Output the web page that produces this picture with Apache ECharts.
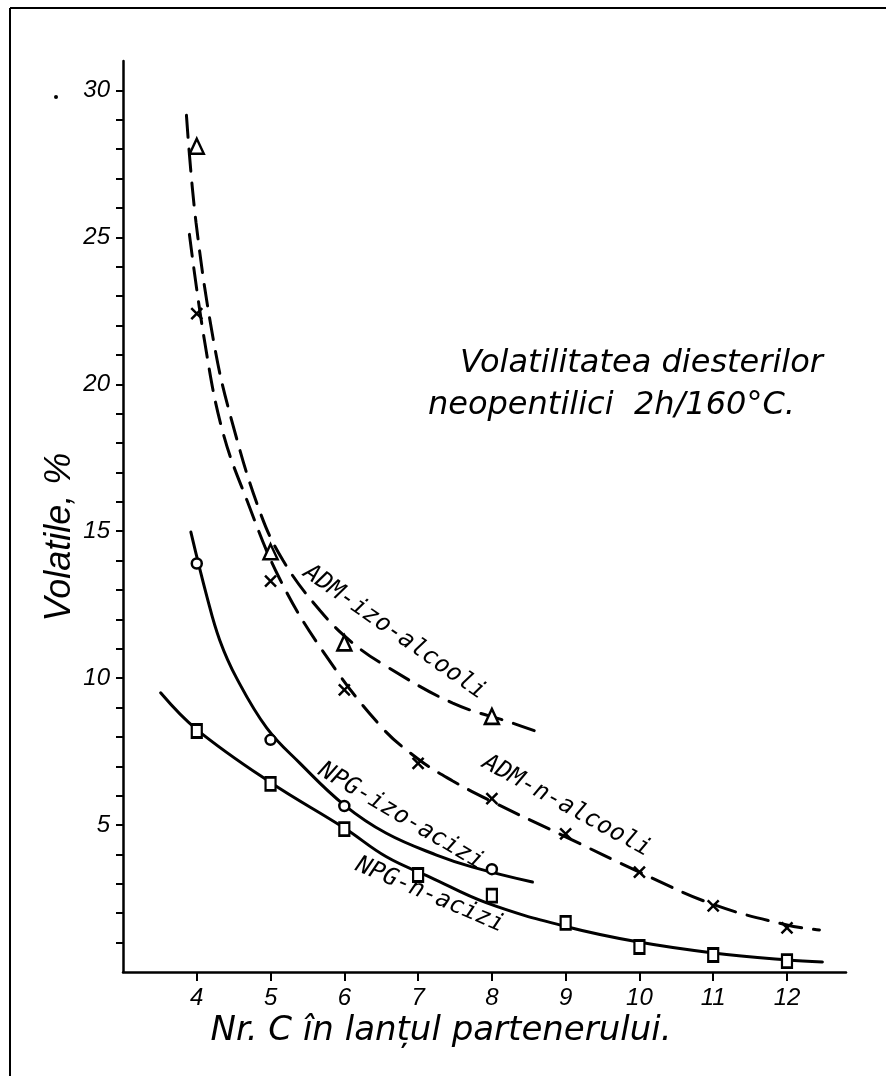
<!DOCTYPE html>
<html>
<head>
<meta charset="utf-8">
<script src="https://cdn.jsdelivr.net/npm/echarts@6/dist/echarts.min.js"></script>
<style>
html, body { margin: 0; padding: 0; background: #fff; }
#chart { width: 886px; height: 1076px; }
</style>
</head>
<body>
<div id="chart"></div>
<script>
// tick values
var xTicks = [4, 5, 6, 7, 8, 9, 10, 11, 12];
var yTicks = [1, 2, 3, 4, 5, 6, 7, 8, 9, 10, 11, 12, 13, 14, 15, 16, 17, 18, 19, 20, 21, 22, 23, 24, 25, 26, 27, 28, 29, 30];
var yLabels = [5, 10, 15, 20, 25, 30];

// measured points (Nr. C, volatile %)
var admIzoPts = [[4, 28.1], [5, 14.3], [6, 11.2], [8, 8.7]];
var admNPts = [[4, 22.4], [5, 13.3], [6, 9.6], [7, 7.1], [8, 5.9], [9, 4.7], [10, 3.4], [11, 2.25], [12, 1.5]];
var npgIzoPts = [[4, 13.9], [5, 7.9], [6, 5.65], [8, 3.5]];
var npgNPts = [[4, 8.2], [5, 6.4], [6, 4.86], [7, 3.3], [8, 2.6], [9, 1.67], [10, 0.85], [11, 0.58], [12, 0.37]];

// hand drawn curves
var admIzoCurve = [[3.86, 29.15], [3.99, 25.5], [4.24, 21.3], [4.47, 18.8], [4.85, 15.7], [5.17, 14.0], [5.67, 12.3], [6.11, 11.2], [6.57, 10.4], [7.47, 9.15], [8.28, 8.47], [8.67, 8.13]];
var admNCurve = [[3.9, 25.1], [4.11, 21.4], [4.35, 18.4], [4.68, 16.05], [5.12, 13.4], [5.7, 10.95], [6.48, 8.4], [7.0, 7.25], [7.47, 6.5], [8.0, 5.8], [9.0, 4.6], [10.0, 3.4], [11.0, 2.3], [12.0, 1.6], [12.44, 1.43]];
var npgIzoCurve = [[3.92, 14.97], [4.14, 12.75], [4.31, 11.3], [4.54, 10.0], [4.95, 8.3], [5.4, 7.1], [6.0, 5.68], [6.57, 4.72], [7.25, 3.98], [7.74, 3.57], [8.55, 3.06]];
var npgNCurve = [[3.51, 9.5], [4.0, 8.25], [5.0, 6.45], [6.0, 4.9], [6.57, 3.92], [7.16, 3.23], [7.93, 2.35], [9.0, 1.55], [9.99, 1.02], [11.0, 0.65], [12.0, 0.41], [12.48, 0.34]];

// curve labels: text, anchor [x, y], angle in degrees
var curveLabels = [
    ['ADM-izo-alcooli', [6.68, 11.56], 35],
    ['ADM-n-alcooli', [9.01, 5.65], 28.6],
    ['NPG-izo-acizi', [6.77, 5.3], 30.6],
    ['NPG-n-acizi', [7.16, 2.62], 23]
];

var font = 'Liberation Sans';
var ink = '#000';

var chart = echarts.init(document.getElementById('chart'));

function curve(name, data, dashed) {
    return {
        name: name,
        type: 'line',
        data: data,
        smooth: 0.4,
        showSymbol: false,
        silent: true,
        z: 2,
        lineStyle: { color: ink, width: 3, type: dashed ? [22, 12] : 'solid', cap: 'round' }
    };
}

function marks(name, data, symbol, size) {
    return {
        name: name,
        type: 'scatter',
        data: data,
        symbol: symbol,
        symbolSize: size,
        z: 5,
        itemStyle: { color: '#fff', borderColor: ink, borderWidth: 2.5, opacity: 1 }
    };
}

var option = {
    backgroundColor: '#fff',
    animation: false,
    grid: { left: 123, right: 40, top: 61, bottom: 104 },
    xAxis: {
        type: 'value',
        min: 3,
        max: 12.8,
        axisLine: { lineStyle: { color: ink, width: 2.5 } },
        axisTick: { customValues: xTicks, length: 9, lineStyle: { color: ink, width: 2 } },
        axisLabel: { customValues: xTicks, color: ink, fontSize: 24, fontStyle: 'italic', fontFamily: font, margin: 14 },
        splitLine: { show: false }
    },
    yAxis: {
        type: 'value',
        min: 0,
        max: 31,
        axisLine: { show: true, lineStyle: { color: ink, width: 2.5 } },
        axisTick: { show: true, customValues: yTicks, length: 7, lineStyle: { color: ink, width: 2 } },
        axisLabel: { customValues: yLabels, color: ink, fontSize: 24, fontStyle: 'italic', fontFamily: font, margin: 13 },
        splitLine: { show: false }
    },
    series: [
        curve('ADM-izo-alcooli', admIzoCurve, true),
        curve('ADM-n-alcooli', admNCurve, true),
        curve('NPG-izo-acizi', npgIzoCurve, false),
        curve('NPG-n-acizi', npgNCurve, false),
        marks('ADM-izo-alcooli', admIzoPts, 'triangle', [14, 15]),
        marks('ADM-n-alcooli', admNPts, 'path://M0,0L10,10M10,0L0,10', 11),
        marks('NPG-izo-acizi', npgIzoPts, 'circle', 10),
        marks('NPG-n-acizi', npgNPts, 'rect', [10, 13])
    ]
};
chart.setOption(option);

// frame, titles and labels placed on top
var graphics = [
    { type: 'line', shape: { x1: 10, y1: 8, x2: 10, y2: 1076 }, style: { stroke: ink, lineWidth: 2 } },
    { type: 'line', shape: { x1: 10, y1: 8, x2: 886, y2: 8 }, style: { stroke: ink, lineWidth: 2 } },
    { type: 'circle', shape: { cx: 56, cy: 97, r: 2 }, style: { fill: ink } },
    { type: 'text', x: 60, y: 537, rotation: Math.PI / 2,
      style: { text: 'Volatile, %', font: 'italic 36px ' + font, fill: ink, align: 'center', verticalAlign: 'middle' } },
    { type: 'text', x: 441, y: 1031,
      style: { text: 'Nr. C în lanțul partenerului.', font: 'italic 34px DejaVu Sans', fill: ink, align: 'center', verticalAlign: 'middle' } },
    { type: 'text', x: 460, y: 364,
      style: { text: 'Volatilitatea diesterilor', font: 'italic 32px DejaVu Sans', fill: ink, align: 'left', verticalAlign: 'middle' } },
    { type: 'text', x: 428, y: 406,
      style: { text: 'neopentilici  2h/160°C.', font: 'italic 32px DejaVu Sans', fill: ink, align: 'left', verticalAlign: 'middle' } }
];
curveLabels.forEach(function (l) {
    var p = chart.convertToPixel({ gridIndex: 0 }, l[1]);
    graphics.push({
        type: 'text', x: p[0], y: p[1], rotation: -l[2] * Math.PI / 180, z: 10,
        style: { text: l[0], font: 'italic 24px DejaVu Sans Mono', fill: ink, align: 'center', verticalAlign: 'middle' }
    });
});
chart.setOption({ graphic: graphics });
</script>
</body>
</html>
